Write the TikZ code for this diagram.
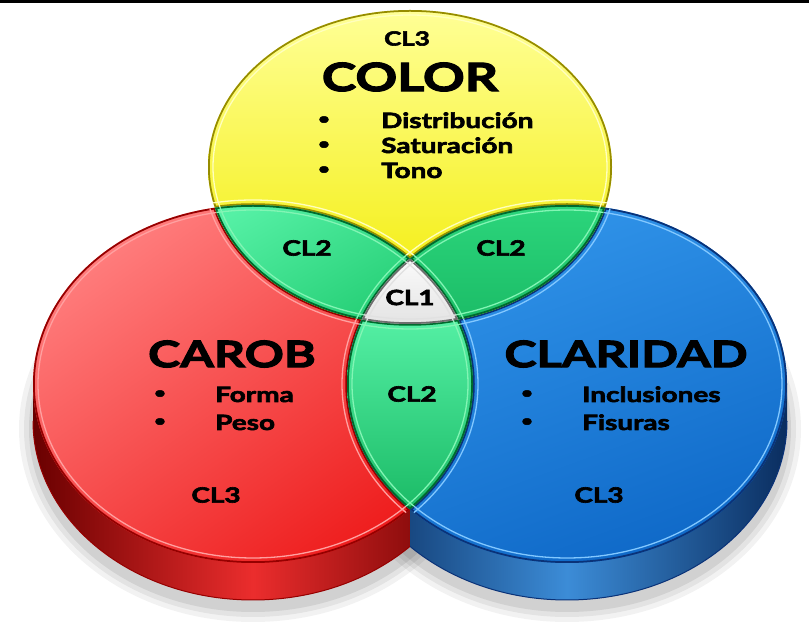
\documentclass[tikz,border=0pt]{standalone}
\usepackage{fontspec}
\setmainfont{Lato}[FakeStretch=1.33, BoldFeatures={FakeBold=3}]
\definecolor{yface1}{RGB}{255,255,150}
\definecolor{yface2}{RGB}{242,236,0}
\definecolor{ydark}{RGB}{150,140,0}
\definecolor{ylight}{RGB}{255,255,190}
\definecolor{rface1}{RGB}{255,125,125}
\definecolor{rface2}{RGB}{238,28,28}
\definecolor{rdark}{RGB}{150,0,0}
\definecolor{rlight}{RGB}{255,160,160}
\definecolor{rside1}{RGB}{105,0,0}
\definecolor{rside2}{RGB}{235,45,45}
\definecolor{bface1}{RGB}{50,150,235}
\definecolor{bface2}{RGB}{15,105,200}
\definecolor{bdark}{RGB}{10,50,120}
\definecolor{blight}{RGB}{130,200,255}
\definecolor{bside1}{RGB}{10,45,95}
\definecolor{bside2}{RGB}{60,140,215}
\definecolor{gl1}{RGB}{85,240,165}
\definecolor{gl2}{RGB}{35,205,115}
\definecolor{gm1}{RGB}{45,215,125}
\definecolor{gm2}{RGB}{25,185,100}
\definecolor{gdark}{RGB}{0,105,45}
\definecolor{glight}{RGB}{130,245,180}
\definecolor{wdark}{RGB}{110,110,110}
\definecolor{wlight}{RGB}{225,225,225}
\newcommand\Yel[1]{(410,459) ellipse [x radius={202pt+(#1pt)}, y radius={157pt+(#1pt)}]}
\newcommand\Red[1]{(253,242) ellipse [x radius={220pt+(#1pt)}, y radius={179pt+(#1pt)}]}
\newcommand\Blu[1]{(567,242) ellipse [x radius={220pt+(#1pt)}, y radius={179pt+(#1pt)}]}
\newcommand\outl[5]{%
  \draw[#1, line width=3.5pt] \Yel{0} \Red{0} \Blu{0};
  \draw[#2, line width=1.3pt] \Yel{#3} \Red{#4} \Blu{#5};
}
\begin{document}
\begin{tikzpicture}[x=1pt,y=1pt,
  lbl/.style={font=\bfseries\fontsize{21}{21}\selectfont, inner sep=0pt},
  big/.style={font=\bfseries\fontsize{36.5}{36.5}\selectfont, inner sep=0pt},
  item/.style={font=\bfseries\fontsize{21}{21}\selectfont, inner sep=0pt, anchor=base west},
  bul/.style={font=\bfseries\fontsize{15}{15}\selectfont, inner sep=0pt, anchor=base},
]
\useasboundingbox (0,0) rectangle (809,626);
\fill[white] (0,0) rectangle (809,626);
\draw[black, line width=3pt] (0,624) -- (809,624);

% soft shadow
\foreach \d/\o in {14/0.05, 9/0.06, 4/0.08} {
  \fill[black, opacity=\o] (253,197) ellipse [x radius={220pt+\d pt}, y radius={179pt+\d pt}];
  \fill[black, opacity=\o] (567,197) ellipse [x radius={220pt+\d pt}, y radius={179pt+\d pt}];
}

% cylinder sides
\shade[left color=rside1, right color=rside1, middle color=rside2]
  (33,242) -- (33,205) arc[start angle=180, end angle=360, x radius=220pt, y radius=179pt] -- (473,242) -- cycle;
\draw[rdark, line width=1pt] (33,205) arc[start angle=180, end angle=360, x radius=220pt, y radius=179pt];
\begin{scope}
  \clip (410,0) rectangle (809,300);
  \shade[left color=bside1, right color=bside1, middle color=bside2]
    (347,242) -- (347,205) arc[start angle=180, end angle=360, x radius=220pt, y radius=179pt] -- (787,242) -- cycle;
  \draw[bdark, line width=1pt] (347,205) arc[start angle=180, end angle=360, x radius=220pt, y radius=179pt];
\end{scope}

% red face
\begin{scope}
  \clip \Red{0};
  \shade[top color=rface1, bottom color=rface2, shading angle=35] \Red{0};
  \outl{rdark}{rlight}{5}{-5}{5}
\end{scope}
% blue face
\begin{scope}
  \clip \Blu{0};
  \shade[top color=bface1, bottom color=bface2, shading angle=20] \Blu{0};
  \outl{bdark}{blight}{5}{5}{-5}
\end{scope}
% yellow face
\begin{scope}
  \clip \Yel{0};
  \shade[top color=yface1, bottom color=yface2] \Yel{0};
  \outl{ydark}{ylight}{-5}{5}{5}
\end{scope}
% yellow & red
\begin{scope}
  \clip \Yel{0}; \clip \Red{0};
  \shade[top color=gl1, bottom color=gl2, shading angle=30] (200,290) rectangle (420,430);
  \outl{gdark}{glight}{-5}{-5}{5}
\end{scope}
% yellow & blue
\begin{scope}
  \clip \Yel{0}; \clip \Blu{0};
  \shade[top color=gm1, bottom color=gm2] (400,290) rectangle (620,430);
  \outl{gdark}{glight}{-5}{5}{-5}
\end{scope}
% red & blue
\begin{scope}
  \clip \Red{0}; \clip \Blu{0};
  \shade[top color=gl1, bottom color=gm2] (340,110) rectangle (480,310);
  \outl{gdark}{glight}{5}{-5}{-5}
\end{scope}
% all three
\begin{scope}
  \clip \Yel{0}; \clip \Red{0}; \clip \Blu{0};
  \shade[top color=white, bottom color=wlight] (350,295) rectangle (470,380);
  \outl{wdark}{wlight}{-5}{-5}{-5}
\end{scope}

% texts
\node[lbl, font=\bfseries\fontsize{19.5}{19.5}\selectfont] (ycl3) at (407,587.5) {CL3};
\node[big, font=\bfseries\fontsize{39}{39}\selectfont] (color) at (410,549) {COLOR};
\node[bul] (yb1) at (324,502) {•};
\node[item] (y1) at (381,498) {Distribución};
\node[bul] (yb2) at (324,477) {•};
\node[item] (y2) at (381,473) {Saturación};
\node[bul] (yb3) at (324,452) {•};
\node[item] (y3) at (381,448) {Tono};

\node[lbl] (cl2a) at (307,378) {CL2};
\node[lbl] (cl2b) at (501,378) {CL2};
\node[lbl] (cl1) at (410,328.5) {CL1};
\node[lbl] (cl2c) at (412,232) {CL2};

\node[big] (carob) at (232,272) {CAROB};
\node[bul] (rb1) at (160,228) {•};
\node[item] (r1) at (215,224) {Forma};
\node[bul] (rb2) at (160,200) {•};
\node[item] (r2) at (215,196) {Peso};
\node[lbl] (rcl3) at (216,131) {CL3};

\node[big] (clar) at (626,272) {CLARIDAD};
\node[bul] (bb1) at (527,228) {•};
\node[item] (b1) at (582,224) {Inclusiones};
\node[bul] (bb2) at (527,200) {•};
\node[item] (b2) at (582,196) {Fisuras};
\node[lbl] (bcl3) at (599,131) {CL3};
\end{tikzpicture}
\end{document}
